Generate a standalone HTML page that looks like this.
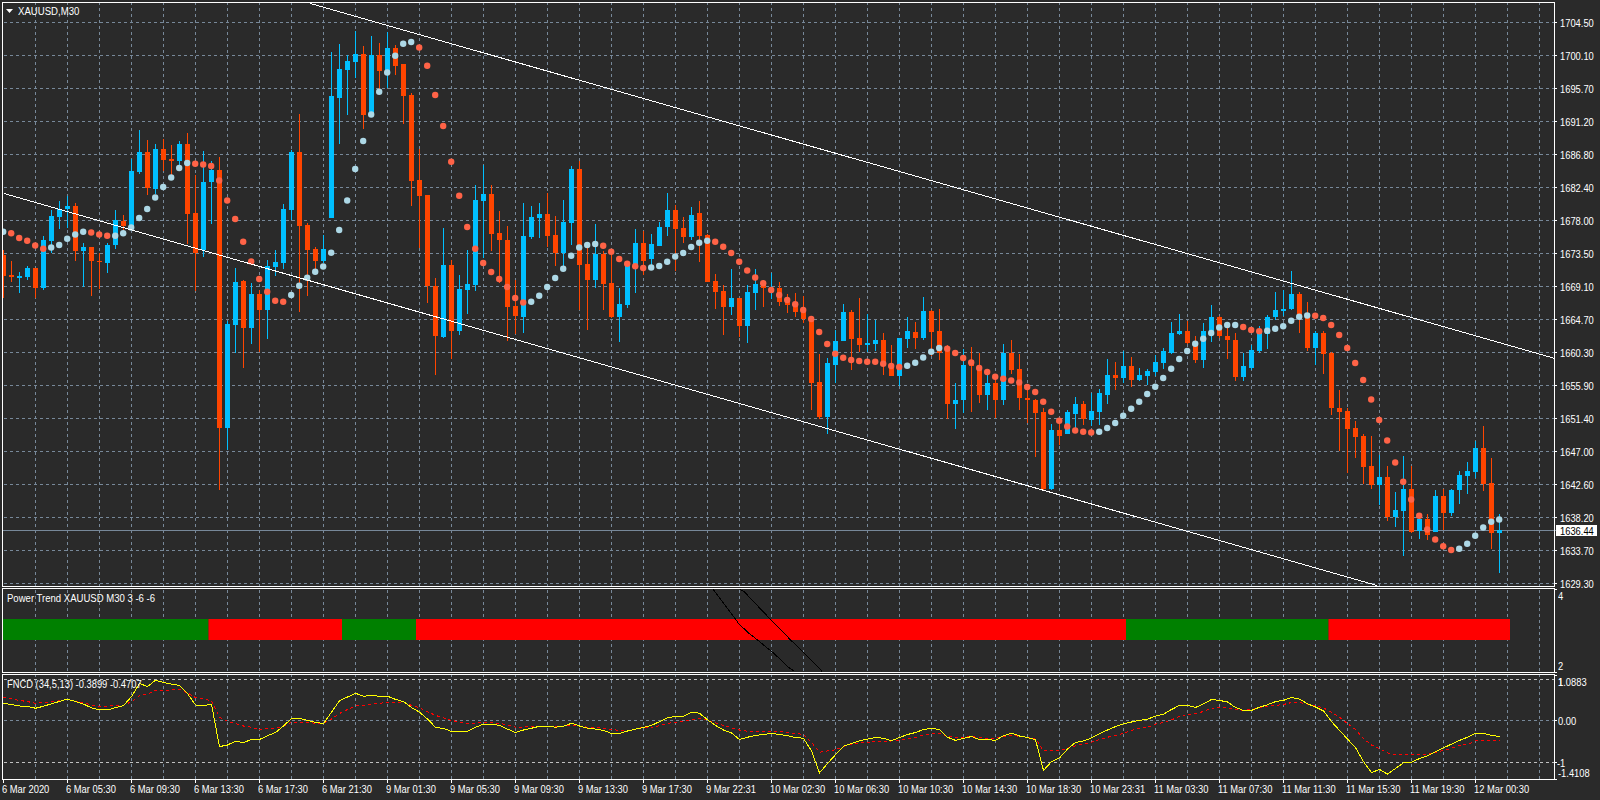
<!DOCTYPE html><html><head><meta charset="utf-8"><title>XAUUSD,M30</title><style>html,body{margin:0;padding:0;background:#2a2a2a;width:1600px;height:800px;overflow:hidden}svg{position:absolute;left:0;top:0;display:block}.t{position:absolute;font-family:"Liberation Sans",sans-serif;font-size:10px;line-height:10px;color:#fff;white-space:pre;transform:scaleX(0.935);transform-origin:0 0}</style></head><body><svg width="1600" height="800" viewBox="0 0 1600 800"><g stroke="#778899" stroke-width="1" stroke-dasharray="3 3" shape-rendering="crispEdges"><line x1="4" y1="22.5" x2="1554" y2="22.5"/><line x1="4" y1="55.5" x2="1554" y2="55.5"/><line x1="4" y1="88.5" x2="1554" y2="88.5"/><line x1="4" y1="121.5" x2="1554" y2="121.5"/><line x1="4" y1="154.5" x2="1554" y2="154.5"/><line x1="4" y1="187.5" x2="1554" y2="187.5"/><line x1="4" y1="220.5" x2="1554" y2="220.5"/><line x1="4" y1="253.5" x2="1554" y2="253.5"/><line x1="4" y1="286.5" x2="1554" y2="286.5"/><line x1="4" y1="319.5" x2="1554" y2="319.5"/><line x1="4" y1="352.5" x2="1554" y2="352.5"/><line x1="4" y1="385.5" x2="1554" y2="385.5"/><line x1="4" y1="418.5" x2="1554" y2="418.5"/><line x1="4" y1="451.5" x2="1554" y2="451.5"/><line x1="4" y1="484.5" x2="1554" y2="484.5"/><line x1="4" y1="517.5" x2="1554" y2="517.5"/><line x1="4" y1="550.5" x2="1554" y2="550.5"/><line x1="4" y1="583.5" x2="1554" y2="583.5"/><line x1="35.5" y1="2" x2="35.5" y2="586"/><line x1="35.5" y1="590" x2="35.5" y2="672"/><line x1="35.5" y1="674" x2="35.5" y2="779"/><line x1="67.5" y1="2" x2="67.5" y2="586"/><line x1="67.5" y1="590" x2="67.5" y2="672"/><line x1="67.5" y1="674" x2="67.5" y2="779"/><line x1="99.5" y1="2" x2="99.5" y2="586"/><line x1="99.5" y1="590" x2="99.5" y2="672"/><line x1="99.5" y1="674" x2="99.5" y2="779"/><line x1="131.5" y1="2" x2="131.5" y2="586"/><line x1="131.5" y1="590" x2="131.5" y2="672"/><line x1="131.5" y1="674" x2="131.5" y2="779"/><line x1="163.5" y1="2" x2="163.5" y2="586"/><line x1="163.5" y1="590" x2="163.5" y2="672"/><line x1="163.5" y1="674" x2="163.5" y2="779"/><line x1="195.5" y1="2" x2="195.5" y2="586"/><line x1="195.5" y1="590" x2="195.5" y2="672"/><line x1="195.5" y1="674" x2="195.5" y2="779"/><line x1="227.5" y1="2" x2="227.5" y2="586"/><line x1="227.5" y1="590" x2="227.5" y2="672"/><line x1="227.5" y1="674" x2="227.5" y2="779"/><line x1="259.5" y1="2" x2="259.5" y2="586"/><line x1="259.5" y1="590" x2="259.5" y2="672"/><line x1="259.5" y1="674" x2="259.5" y2="779"/><line x1="291.5" y1="2" x2="291.5" y2="586"/><line x1="291.5" y1="590" x2="291.5" y2="672"/><line x1="291.5" y1="674" x2="291.5" y2="779"/><line x1="323.5" y1="2" x2="323.5" y2="586"/><line x1="323.5" y1="590" x2="323.5" y2="672"/><line x1="323.5" y1="674" x2="323.5" y2="779"/><line x1="355.5" y1="2" x2="355.5" y2="586"/><line x1="355.5" y1="590" x2="355.5" y2="672"/><line x1="355.5" y1="674" x2="355.5" y2="779"/><line x1="387.5" y1="2" x2="387.5" y2="586"/><line x1="387.5" y1="590" x2="387.5" y2="672"/><line x1="387.5" y1="674" x2="387.5" y2="779"/><line x1="419.5" y1="2" x2="419.5" y2="586"/><line x1="419.5" y1="590" x2="419.5" y2="672"/><line x1="419.5" y1="674" x2="419.5" y2="779"/><line x1="451.5" y1="2" x2="451.5" y2="586"/><line x1="451.5" y1="590" x2="451.5" y2="672"/><line x1="451.5" y1="674" x2="451.5" y2="779"/><line x1="483.5" y1="2" x2="483.5" y2="586"/><line x1="483.5" y1="590" x2="483.5" y2="672"/><line x1="483.5" y1="674" x2="483.5" y2="779"/><line x1="515.5" y1="2" x2="515.5" y2="586"/><line x1="515.5" y1="590" x2="515.5" y2="672"/><line x1="515.5" y1="674" x2="515.5" y2="779"/><line x1="547.5" y1="2" x2="547.5" y2="586"/><line x1="547.5" y1="590" x2="547.5" y2="672"/><line x1="547.5" y1="674" x2="547.5" y2="779"/><line x1="579.5" y1="2" x2="579.5" y2="586"/><line x1="579.5" y1="590" x2="579.5" y2="672"/><line x1="579.5" y1="674" x2="579.5" y2="779"/><line x1="611.5" y1="2" x2="611.5" y2="586"/><line x1="611.5" y1="590" x2="611.5" y2="672"/><line x1="611.5" y1="674" x2="611.5" y2="779"/><line x1="643.5" y1="2" x2="643.5" y2="586"/><line x1="643.5" y1="590" x2="643.5" y2="672"/><line x1="643.5" y1="674" x2="643.5" y2="779"/><line x1="675.5" y1="2" x2="675.5" y2="586"/><line x1="675.5" y1="590" x2="675.5" y2="672"/><line x1="675.5" y1="674" x2="675.5" y2="779"/><line x1="707.5" y1="2" x2="707.5" y2="586"/><line x1="707.5" y1="590" x2="707.5" y2="672"/><line x1="707.5" y1="674" x2="707.5" y2="779"/><line x1="739.5" y1="2" x2="739.5" y2="586"/><line x1="739.5" y1="590" x2="739.5" y2="672"/><line x1="739.5" y1="674" x2="739.5" y2="779"/><line x1="771.5" y1="2" x2="771.5" y2="586"/><line x1="771.5" y1="590" x2="771.5" y2="672"/><line x1="771.5" y1="674" x2="771.5" y2="779"/><line x1="803.5" y1="2" x2="803.5" y2="586"/><line x1="803.5" y1="590" x2="803.5" y2="672"/><line x1="803.5" y1="674" x2="803.5" y2="779"/><line x1="835.5" y1="2" x2="835.5" y2="586"/><line x1="835.5" y1="590" x2="835.5" y2="672"/><line x1="835.5" y1="674" x2="835.5" y2="779"/><line x1="867.5" y1="2" x2="867.5" y2="586"/><line x1="867.5" y1="590" x2="867.5" y2="672"/><line x1="867.5" y1="674" x2="867.5" y2="779"/><line x1="899.5" y1="2" x2="899.5" y2="586"/><line x1="899.5" y1="590" x2="899.5" y2="672"/><line x1="899.5" y1="674" x2="899.5" y2="779"/><line x1="931.5" y1="2" x2="931.5" y2="586"/><line x1="931.5" y1="590" x2="931.5" y2="672"/><line x1="931.5" y1="674" x2="931.5" y2="779"/><line x1="963.5" y1="2" x2="963.5" y2="586"/><line x1="963.5" y1="590" x2="963.5" y2="672"/><line x1="963.5" y1="674" x2="963.5" y2="779"/><line x1="995.5" y1="2" x2="995.5" y2="586"/><line x1="995.5" y1="590" x2="995.5" y2="672"/><line x1="995.5" y1="674" x2="995.5" y2="779"/><line x1="1027.5" y1="2" x2="1027.5" y2="586"/><line x1="1027.5" y1="590" x2="1027.5" y2="672"/><line x1="1027.5" y1="674" x2="1027.5" y2="779"/><line x1="1059.5" y1="2" x2="1059.5" y2="586"/><line x1="1059.5" y1="590" x2="1059.5" y2="672"/><line x1="1059.5" y1="674" x2="1059.5" y2="779"/><line x1="1091.5" y1="2" x2="1091.5" y2="586"/><line x1="1091.5" y1="590" x2="1091.5" y2="672"/><line x1="1091.5" y1="674" x2="1091.5" y2="779"/><line x1="1123.5" y1="2" x2="1123.5" y2="586"/><line x1="1123.5" y1="590" x2="1123.5" y2="672"/><line x1="1123.5" y1="674" x2="1123.5" y2="779"/><line x1="1155.5" y1="2" x2="1155.5" y2="586"/><line x1="1155.5" y1="590" x2="1155.5" y2="672"/><line x1="1155.5" y1="674" x2="1155.5" y2="779"/><line x1="1187.5" y1="2" x2="1187.5" y2="586"/><line x1="1187.5" y1="590" x2="1187.5" y2="672"/><line x1="1187.5" y1="674" x2="1187.5" y2="779"/><line x1="1219.5" y1="2" x2="1219.5" y2="586"/><line x1="1219.5" y1="590" x2="1219.5" y2="672"/><line x1="1219.5" y1="674" x2="1219.5" y2="779"/><line x1="1251.5" y1="2" x2="1251.5" y2="586"/><line x1="1251.5" y1="590" x2="1251.5" y2="672"/><line x1="1251.5" y1="674" x2="1251.5" y2="779"/><line x1="1283.5" y1="2" x2="1283.5" y2="586"/><line x1="1283.5" y1="590" x2="1283.5" y2="672"/><line x1="1283.5" y1="674" x2="1283.5" y2="779"/><line x1="1315.5" y1="2" x2="1315.5" y2="586"/><line x1="1315.5" y1="590" x2="1315.5" y2="672"/><line x1="1315.5" y1="674" x2="1315.5" y2="779"/><line x1="1347.5" y1="2" x2="1347.5" y2="586"/><line x1="1347.5" y1="590" x2="1347.5" y2="672"/><line x1="1347.5" y1="674" x2="1347.5" y2="779"/><line x1="1379.5" y1="2" x2="1379.5" y2="586"/><line x1="1379.5" y1="590" x2="1379.5" y2="672"/><line x1="1379.5" y1="674" x2="1379.5" y2="779"/><line x1="1411.5" y1="2" x2="1411.5" y2="586"/><line x1="1411.5" y1="590" x2="1411.5" y2="672"/><line x1="1411.5" y1="674" x2="1411.5" y2="779"/><line x1="1443.5" y1="2" x2="1443.5" y2="586"/><line x1="1443.5" y1="590" x2="1443.5" y2="672"/><line x1="1443.5" y1="674" x2="1443.5" y2="779"/><line x1="1475.5" y1="2" x2="1475.5" y2="586"/><line x1="1475.5" y1="590" x2="1475.5" y2="672"/><line x1="1475.5" y1="674" x2="1475.5" y2="779"/><line x1="1507.5" y1="2" x2="1507.5" y2="586"/><line x1="1507.5" y1="590" x2="1507.5" y2="672"/><line x1="1507.5" y1="674" x2="1507.5" y2="779"/><line x1="1539.5" y1="2" x2="1539.5" y2="586"/><line x1="1539.5" y1="590" x2="1539.5" y2="672"/><line x1="1539.5" y1="674" x2="1539.5" y2="779"/><line x1="4" y1="720.5" x2="1554" y2="720.5"/></g><g stroke="#c0c0c0" stroke-width="1" stroke-dasharray="3 3" shape-rendering="crispEdges"><line x1="4" y1="679.5" x2="1554" y2="679.5"/><line x1="4" y1="762.5" x2="1554" y2="762.5"/></g><line x1="3" y1="530.5" x2="1556" y2="530.5" stroke="#778899" stroke-width="1" shape-rendering="crispEdges"/><g clip-path="url(#mainclip)" shape-rendering="crispEdges"><g fill="#00bfff"><rect x="19" y="272" width="1" height="21"/><rect x="17" y="276" width="5" height="2"/><rect x="27" y="266" width="1" height="14"/><rect x="25" y="268" width="5" height="9"/><rect x="43" y="236" width="1" height="54"/><rect x="41" y="240" width="5" height="48"/><rect x="51" y="210" width="1" height="43"/><rect x="49" y="216" width="5" height="25"/><rect x="59" y="201" width="1" height="28"/><rect x="57" y="209" width="5" height="8"/><rect x="67" y="196" width="1" height="32"/><rect x="65" y="206" width="5" height="3"/><rect x="83" y="243" width="1" height="44"/><rect x="81" y="247" width="5" height="4"/><rect x="107" y="243" width="1" height="30"/><rect x="105" y="245" width="5" height="18"/><rect x="115" y="210" width="1" height="39"/><rect x="113" y="220" width="5" height="25"/><rect x="131" y="159" width="1" height="71"/><rect x="129" y="171" width="5" height="58"/><rect x="139" y="130" width="1" height="44"/><rect x="137" y="152" width="5" height="20"/><rect x="155" y="144" width="1" height="50"/><rect x="153" y="149" width="5" height="40"/><rect x="179" y="141" width="1" height="24"/><rect x="177" y="144" width="5" height="17"/><rect x="203" y="151" width="1" height="106"/><rect x="201" y="182" width="5" height="68"/><rect x="211" y="161" width="1" height="63"/><rect x="209" y="170" width="5" height="12"/><rect x="227" y="321" width="1" height="129"/><rect x="225" y="324" width="5" height="104"/><rect x="235" y="268" width="1" height="85"/><rect x="233" y="282" width="5" height="43"/><rect x="251" y="283" width="1" height="61"/><rect x="249" y="294" width="5" height="34"/><rect x="267" y="260" width="1" height="79"/><rect x="265" y="266" width="5" height="44"/><rect x="275" y="250" width="1" height="26"/><rect x="273" y="262" width="5" height="5"/><rect x="283" y="204" width="1" height="65"/><rect x="281" y="209" width="5" height="54"/><rect x="291" y="150" width="1" height="70"/><rect x="289" y="152" width="5" height="58"/><rect x="323" y="235" width="1" height="28"/><rect x="321" y="249" width="5" height="12"/><rect x="331" y="52" width="1" height="166"/><rect x="329" y="96" width="5" height="122"/><rect x="339" y="44" width="1" height="100"/><rect x="337" y="69" width="5" height="29"/><rect x="347" y="55" width="1" height="60"/><rect x="345" y="61" width="5" height="9"/><rect x="355" y="31" width="1" height="47"/><rect x="353" y="54" width="5" height="8"/><rect x="371" y="36" width="1" height="79"/><rect x="369" y="55" width="5" height="59"/><rect x="387" y="32" width="1" height="56"/><rect x="385" y="48" width="5" height="24"/><rect x="443" y="228" width="1" height="110"/><rect x="441" y="265" width="5" height="72"/><rect x="459" y="275" width="1" height="60"/><rect x="457" y="289" width="5" height="42"/><rect x="467" y="250" width="1" height="64"/><rect x="465" y="284" width="5" height="6"/><rect x="475" y="185" width="1" height="106"/><rect x="473" y="200" width="5" height="85"/><rect x="483" y="165" width="1" height="93"/><rect x="481" y="194" width="5" height="7"/><rect x="523" y="203" width="1" height="130"/><rect x="521" y="236" width="5" height="81"/><rect x="531" y="206" width="1" height="33"/><rect x="529" y="217" width="5" height="20"/><rect x="539" y="203" width="1" height="35"/><rect x="537" y="214" width="5" height="4"/><rect x="563" y="200" width="1" height="66"/><rect x="561" y="222" width="5" height="31"/><rect x="571" y="166" width="1" height="79"/><rect x="569" y="169" width="5" height="54"/><rect x="595" y="224" width="1" height="64"/><rect x="593" y="254" width="5" height="26"/><rect x="619" y="288" width="1" height="54"/><rect x="617" y="304" width="5" height="13"/><rect x="627" y="263" width="1" height="45"/><rect x="625" y="265" width="5" height="40"/><rect x="635" y="229" width="1" height="64"/><rect x="633" y="243" width="5" height="22"/><rect x="651" y="234" width="1" height="32"/><rect x="649" y="244" width="5" height="15"/><rect x="659" y="222" width="1" height="24"/><rect x="657" y="227" width="5" height="19"/><rect x="667" y="193" width="1" height="43"/><rect x="665" y="210" width="5" height="17"/><rect x="691" y="207" width="1" height="33"/><rect x="689" y="215" width="5" height="22"/><rect x="731" y="269" width="1" height="46"/><rect x="729" y="298" width="5" height="9"/><rect x="747" y="285" width="1" height="58"/><rect x="745" y="292" width="5" height="34"/><rect x="755" y="269" width="1" height="41"/><rect x="753" y="284" width="5" height="9"/><rect x="771" y="273" width="1" height="26"/><rect x="769" y="288" width="5" height="2"/><rect x="827" y="358" width="1" height="76"/><rect x="825" y="363" width="5" height="54"/><rect x="835" y="330" width="1" height="53"/><rect x="833" y="341" width="5" height="24"/><rect x="843" y="304" width="1" height="37"/><rect x="841" y="312" width="5" height="29"/><rect x="867" y="314" width="1" height="38"/><rect x="865" y="343" width="5" height="2"/><rect x="875" y="320" width="1" height="31"/><rect x="873" y="340" width="5" height="4"/><rect x="899" y="338" width="1" height="48"/><rect x="897" y="338" width="5" height="38"/><rect x="907" y="317" width="1" height="31"/><rect x="905" y="331" width="5" height="8"/><rect x="923" y="297" width="1" height="43"/><rect x="921" y="311" width="5" height="27"/><rect x="955" y="383" width="1" height="46"/><rect x="953" y="400" width="5" height="4"/><rect x="963" y="349" width="1" height="64"/><rect x="961" y="365" width="5" height="35"/><rect x="987" y="375" width="1" height="35"/><rect x="985" y="383" width="5" height="12"/><rect x="1003" y="344" width="1" height="61"/><rect x="1001" y="353" width="5" height="47"/><rect x="1051" y="424" width="1" height="66"/><rect x="1049" y="430" width="5" height="59"/><rect x="1067" y="410" width="1" height="24"/><rect x="1065" y="412" width="5" height="22"/><rect x="1075" y="397" width="1" height="31"/><rect x="1073" y="404" width="5" height="10"/><rect x="1091" y="393" width="1" height="33"/><rect x="1089" y="411" width="5" height="9"/><rect x="1099" y="389" width="1" height="36"/><rect x="1097" y="393" width="5" height="19"/><rect x="1107" y="359" width="1" height="45"/><rect x="1105" y="375" width="5" height="20"/><rect x="1123" y="351" width="1" height="32"/><rect x="1121" y="366" width="5" height="12"/><rect x="1139" y="368" width="1" height="13"/><rect x="1137" y="375" width="5" height="5"/><rect x="1147" y="369" width="1" height="16"/><rect x="1145" y="371" width="5" height="5"/><rect x="1155" y="355" width="1" height="21"/><rect x="1153" y="362" width="5" height="10"/><rect x="1163" y="348" width="1" height="21"/><rect x="1161" y="351" width="5" height="12"/><rect x="1171" y="322" width="1" height="32"/><rect x="1169" y="333" width="5" height="20"/><rect x="1179" y="314" width="1" height="21"/><rect x="1177" y="331" width="5" height="3"/><rect x="1203" y="323" width="1" height="45"/><rect x="1201" y="331" width="5" height="29"/><rect x="1211" y="305" width="1" height="37"/><rect x="1209" y="317" width="5" height="16"/><rect x="1243" y="353" width="1" height="28"/><rect x="1241" y="366" width="5" height="11"/><rect x="1251" y="345" width="1" height="25"/><rect x="1249" y="350" width="5" height="18"/><rect x="1259" y="326" width="1" height="27"/><rect x="1257" y="333" width="5" height="18"/><rect x="1267" y="315" width="1" height="34"/><rect x="1265" y="317" width="5" height="17"/><rect x="1275" y="292" width="1" height="28"/><rect x="1273" y="310" width="5" height="7"/><rect x="1283" y="290" width="1" height="26"/><rect x="1281" y="309" width="5" height="2"/><rect x="1291" y="271" width="1" height="39"/><rect x="1289" y="294" width="5" height="15"/><rect x="1315" y="331" width="1" height="34"/><rect x="1313" y="333" width="5" height="15"/><rect x="1379" y="455" width="1" height="50"/><rect x="1377" y="477" width="5" height="8"/><rect x="1395" y="492" width="1" height="35"/><rect x="1393" y="510" width="5" height="7"/><rect x="1403" y="456" width="1" height="100"/><rect x="1401" y="489" width="5" height="22"/><rect x="1419" y="515" width="1" height="24"/><rect x="1417" y="519" width="5" height="12"/><rect x="1435" y="490" width="1" height="42"/><rect x="1433" y="496" width="5" height="36"/><rect x="1451" y="489" width="1" height="27"/><rect x="1449" y="490" width="5" height="23"/><rect x="1459" y="471" width="1" height="33"/><rect x="1457" y="475" width="5" height="15"/><rect x="1467" y="462" width="1" height="32"/><rect x="1465" y="471" width="5" height="5"/><rect x="1475" y="441" width="1" height="37"/><rect x="1473" y="448" width="5" height="24"/><rect x="1499" y="514" width="1" height="59"/><rect x="1497" y="530" width="5" height="3"/></g><g fill="#ff4500"><rect x="3" y="250" width="1" height="48"/><rect x="1" y="255" width="5" height="21"/><rect x="11" y="261" width="1" height="21"/><rect x="9" y="275" width="5" height="2"/><rect x="35" y="268" width="1" height="30"/><rect x="33" y="268" width="5" height="20"/><rect x="75" y="203" width="1" height="58"/><rect x="73" y="206" width="5" height="45"/><rect x="91" y="247" width="1" height="49"/><rect x="89" y="247" width="5" height="14"/><rect x="99" y="253" width="1" height="36"/><rect x="97" y="261" width="5" height="1"/><rect x="123" y="215" width="1" height="16"/><rect x="121" y="221" width="5" height="5"/><rect x="147" y="140" width="1" height="55"/><rect x="145" y="152" width="5" height="36"/><rect x="163" y="139" width="1" height="32"/><rect x="161" y="149" width="5" height="11"/><rect x="171" y="145" width="1" height="32"/><rect x="169" y="159" width="5" height="2"/><rect x="187" y="133" width="1" height="111"/><rect x="185" y="144" width="5" height="70"/><rect x="195" y="175" width="1" height="116"/><rect x="193" y="213" width="5" height="40"/><rect x="219" y="157" width="1" height="333"/><rect x="217" y="170" width="5" height="258"/><rect x="243" y="280" width="1" height="88"/><rect x="241" y="281" width="5" height="47"/><rect x="259" y="290" width="1" height="62"/><rect x="257" y="294" width="5" height="16"/><rect x="299" y="114" width="1" height="198"/><rect x="297" y="152" width="5" height="74"/><rect x="307" y="223" width="1" height="73"/><rect x="305" y="225" width="5" height="25"/><rect x="315" y="247" width="1" height="22"/><rect x="313" y="249" width="5" height="12"/><rect x="363" y="46" width="1" height="83"/><rect x="361" y="54" width="5" height="61"/><rect x="379" y="43" width="1" height="48"/><rect x="377" y="55" width="5" height="16"/><rect x="395" y="45" width="1" height="30"/><rect x="393" y="48" width="5" height="18"/><rect x="403" y="64" width="1" height="60"/><rect x="401" y="64" width="5" height="32"/><rect x="411" y="93" width="1" height="113"/><rect x="409" y="95" width="5" height="86"/><rect x="419" y="149" width="1" height="99"/><rect x="417" y="180" width="5" height="16"/><rect x="427" y="195" width="1" height="108"/><rect x="425" y="195" width="5" height="91"/><rect x="435" y="278" width="1" height="97"/><rect x="433" y="286" width="5" height="50"/><rect x="451" y="260" width="1" height="99"/><rect x="449" y="265" width="5" height="66"/><rect x="491" y="185" width="1" height="66"/><rect x="489" y="194" width="5" height="40"/><rect x="499" y="211" width="1" height="72"/><rect x="497" y="233" width="5" height="7"/><rect x="507" y="226" width="1" height="115"/><rect x="505" y="240" width="5" height="67"/><rect x="515" y="280" width="1" height="54"/><rect x="513" y="306" width="5" height="10"/><rect x="547" y="193" width="1" height="54"/><rect x="545" y="214" width="5" height="22"/><rect x="555" y="216" width="1" height="50"/><rect x="553" y="235" width="5" height="18"/><rect x="579" y="161" width="1" height="149"/><rect x="577" y="169" width="5" height="96"/><rect x="587" y="246" width="1" height="84"/><rect x="585" y="264" width="5" height="16"/><rect x="603" y="251" width="1" height="59"/><rect x="601" y="254" width="5" height="30"/><rect x="611" y="253" width="1" height="65"/><rect x="609" y="283" width="5" height="34"/><rect x="643" y="231" width="1" height="44"/><rect x="641" y="243" width="5" height="18"/><rect x="675" y="205" width="1" height="66"/><rect x="673" y="210" width="5" height="19"/><rect x="683" y="217" width="1" height="26"/><rect x="681" y="228" width="5" height="9"/><rect x="699" y="201" width="1" height="61"/><rect x="697" y="213" width="5" height="23"/><rect x="707" y="234" width="1" height="48"/><rect x="705" y="235" width="5" height="47"/><rect x="715" y="274" width="1" height="35"/><rect x="713" y="281" width="5" height="11"/><rect x="723" y="285" width="1" height="50"/><rect x="721" y="291" width="5" height="16"/><rect x="739" y="298" width="1" height="39"/><rect x="737" y="298" width="5" height="28"/><rect x="763" y="280" width="1" height="27"/><rect x="761" y="282" width="5" height="6"/><rect x="779" y="282" width="1" height="24"/><rect x="777" y="288" width="5" height="14"/><rect x="787" y="294" width="1" height="19"/><rect x="785" y="298" width="5" height="7"/><rect x="795" y="293" width="1" height="24"/><rect x="793" y="302" width="5" height="10"/><rect x="803" y="296" width="1" height="27"/><rect x="801" y="309" width="5" height="10"/><rect x="811" y="318" width="1" height="92"/><rect x="809" y="319" width="5" height="64"/><rect x="819" y="354" width="1" height="65"/><rect x="817" y="382" width="5" height="35"/><rect x="851" y="310" width="1" height="60"/><rect x="849" y="312" width="5" height="27"/><rect x="859" y="298" width="1" height="54"/><rect x="857" y="338" width="5" height="7"/><rect x="883" y="333" width="1" height="42"/><rect x="881" y="340" width="5" height="24"/><rect x="891" y="345" width="1" height="31"/><rect x="889" y="364" width="5" height="12"/><rect x="915" y="322" width="1" height="27"/><rect x="913" y="332" width="5" height="6"/><rect x="931" y="310" width="1" height="46"/><rect x="929" y="311" width="5" height="21"/><rect x="939" y="309" width="1" height="51"/><rect x="937" y="331" width="5" height="22"/><rect x="947" y="345" width="1" height="74"/><rect x="945" y="348" width="5" height="56"/><rect x="971" y="347" width="1" height="65"/><rect x="969" y="360" width="5" height="6"/><rect x="979" y="353" width="1" height="50"/><rect x="977" y="366" width="5" height="29"/><rect x="995" y="378" width="1" height="40"/><rect x="993" y="383" width="5" height="17"/><rect x="1011" y="340" width="1" height="34"/><rect x="1009" y="353" width="5" height="17"/><rect x="1019" y="354" width="1" height="56"/><rect x="1017" y="369" width="5" height="29"/><rect x="1027" y="386" width="1" height="37"/><rect x="1025" y="398" width="5" height="2"/><rect x="1035" y="399" width="1" height="58"/><rect x="1033" y="400" width="5" height="13"/><rect x="1043" y="408" width="1" height="83"/><rect x="1041" y="412" width="5" height="77"/><rect x="1059" y="424" width="1" height="21"/><rect x="1057" y="430" width="5" height="6"/><rect x="1083" y="401" width="1" height="24"/><rect x="1081" y="404" width="5" height="15"/><rect x="1115" y="362" width="1" height="28"/><rect x="1113" y="375" width="5" height="3"/><rect x="1131" y="357" width="1" height="30"/><rect x="1129" y="366" width="5" height="14"/><rect x="1187" y="321" width="1" height="23"/><rect x="1185" y="331" width="5" height="12"/><rect x="1195" y="336" width="1" height="27"/><rect x="1193" y="344" width="5" height="16"/><rect x="1219" y="316" width="1" height="22"/><rect x="1217" y="317" width="5" height="19"/><rect x="1227" y="328" width="1" height="31"/><rect x="1225" y="336" width="5" height="4"/><rect x="1235" y="333" width="1" height="48"/><rect x="1233" y="340" width="5" height="37"/><rect x="1299" y="292" width="1" height="41"/><rect x="1297" y="294" width="5" height="22"/><rect x="1307" y="302" width="1" height="49"/><rect x="1305" y="316" width="5" height="32"/><rect x="1323" y="331" width="1" height="43"/><rect x="1321" y="333" width="5" height="21"/><rect x="1331" y="352" width="1" height="63"/><rect x="1329" y="353" width="5" height="55"/><rect x="1339" y="390" width="1" height="61"/><rect x="1337" y="408" width="5" height="4"/><rect x="1347" y="408" width="1" height="65"/><rect x="1345" y="411" width="5" height="18"/><rect x="1355" y="421" width="1" height="37"/><rect x="1353" y="428" width="5" height="9"/><rect x="1363" y="434" width="1" height="50"/><rect x="1361" y="436" width="5" height="31"/><rect x="1371" y="436" width="1" height="53"/><rect x="1369" y="466" width="5" height="19"/><rect x="1387" y="466" width="1" height="55"/><rect x="1385" y="477" width="5" height="40"/><rect x="1411" y="466" width="1" height="67"/><rect x="1409" y="489" width="5" height="43"/><rect x="1427" y="514" width="1" height="26"/><rect x="1425" y="519" width="5" height="16"/><rect x="1443" y="489" width="1" height="41"/><rect x="1441" y="496" width="5" height="17"/><rect x="1483" y="426" width="1" height="65"/><rect x="1481" y="448" width="5" height="36"/><rect x="1491" y="458" width="1" height="91"/><rect x="1489" y="483" width="5" height="50"/></g></g><defs><clipPath id="mainclip"><rect x="3" y="3" width="1551" height="583"/></clipPath></defs><g clip-path="url(#mainclip)"><g fill="#add8e6"><circle cx="3.2" cy="231.75" r="3.2"/><circle cx="51.2" cy="247.50" r="3.2"/><circle cx="59.2" cy="245.00" r="3.2"/><circle cx="67.2" cy="238.75" r="3.2"/><circle cx="75.2" cy="234.50" r="3.2"/><circle cx="83.2" cy="231.75" r="3.2"/><circle cx="115.2" cy="235.75" r="3.2"/><circle cx="123.2" cy="233.25" r="3.2"/><circle cx="131.2" cy="227.50" r="3.2"/><circle cx="139.2" cy="218.00" r="3.2"/><circle cx="147.2" cy="209.00" r="3.2"/><circle cx="155.2" cy="197.50" r="3.2"/><circle cx="163.2" cy="187.00" r="3.2"/><circle cx="171.2" cy="177.50" r="3.2"/><circle cx="179.2" cy="168.00" r="3.2"/><circle cx="187.2" cy="163.00" r="3.2"/><circle cx="291.2" cy="295.00" r="3.2"/><circle cx="299.2" cy="285.75" r="3.2"/><circle cx="307.2" cy="277.75" r="3.2"/><circle cx="315.2" cy="271.75" r="3.2"/><circle cx="323.2" cy="266.50" r="3.2"/><circle cx="331.2" cy="252.75" r="3.2"/><circle cx="339.2" cy="230.00" r="3.2"/><circle cx="347.2" cy="200.50" r="3.2"/><circle cx="355.2" cy="169.00" r="3.2"/><circle cx="363.2" cy="141.00" r="3.2"/><circle cx="371.2" cy="114.50" r="3.2"/><circle cx="379.2" cy="91.75" r="3.2"/><circle cx="387.2" cy="72.50" r="3.2"/><circle cx="395.2" cy="55.75" r="3.2"/><circle cx="403.2" cy="43.75" r="3.2"/><circle cx="411.2" cy="42.00" r="3.2"/><circle cx="531.2" cy="301.75" r="3.2"/><circle cx="539.2" cy="295.75" r="3.2"/><circle cx="547.2" cy="287.00" r="3.2"/><circle cx="555.2" cy="278.00" r="3.2"/><circle cx="563.2" cy="268.75" r="3.2"/><circle cx="571.2" cy="255.75" r="3.2"/><circle cx="579.2" cy="247.50" r="3.2"/><circle cx="587.2" cy="245.00" r="3.2"/><circle cx="595.2" cy="244.00" r="3.2"/><circle cx="651.2" cy="267.50" r="3.2"/><circle cx="659.2" cy="266.00" r="3.2"/><circle cx="667.2" cy="261.75" r="3.2"/><circle cx="675.2" cy="256.50" r="3.2"/><circle cx="683.2" cy="253.00" r="3.2"/><circle cx="691.2" cy="247.00" r="3.2"/><circle cx="699.2" cy="242.75" r="3.2"/><circle cx="707.2" cy="240.75" r="3.2"/><circle cx="907.2" cy="365.75" r="3.2"/><circle cx="915.2" cy="362.75" r="3.2"/><circle cx="923.2" cy="357.50" r="3.2"/><circle cx="931.2" cy="351.75" r="3.2"/><circle cx="939.2" cy="348.00" r="3.2"/><circle cx="1099.2" cy="431.75" r="3.2"/><circle cx="1107.2" cy="428.00" r="3.2"/><circle cx="1115.2" cy="423.00" r="3.2"/><circle cx="1123.2" cy="415.75" r="3.2"/><circle cx="1131.2" cy="408.75" r="3.2"/><circle cx="1139.2" cy="401.75" r="3.2"/><circle cx="1147.2" cy="394.00" r="3.2"/><circle cx="1155.2" cy="386.75" r="3.2"/><circle cx="1163.2" cy="378.00" r="3.2"/><circle cx="1171.2" cy="368.75" r="3.2"/><circle cx="1179.2" cy="359.00" r="3.2"/><circle cx="1187.2" cy="351.00" r="3.2"/><circle cx="1195.2" cy="343.75" r="3.2"/><circle cx="1203.2" cy="338.75" r="3.2"/><circle cx="1211.2" cy="333.00" r="3.2"/><circle cx="1219.2" cy="327.50" r="3.2"/><circle cx="1227.2" cy="325.00" r="3.2"/><circle cx="1235.2" cy="325.00" r="3.2"/><circle cx="1267.2" cy="330.75" r="3.2"/><circle cx="1275.2" cy="328.75" r="3.2"/><circle cx="1283.2" cy="326.25" r="3.2"/><circle cx="1291.2" cy="320.75" r="3.2"/><circle cx="1299.2" cy="316.75" r="3.2"/><circle cx="1307.2" cy="315.50" r="3.2"/><circle cx="1459.2" cy="548.75" r="3.2"/><circle cx="1467.2" cy="543.75" r="3.2"/><circle cx="1475.2" cy="535.75" r="3.2"/><circle cx="1483.2" cy="527.50" r="3.2"/><circle cx="1491.2" cy="521.75" r="3.2"/><circle cx="1499.2" cy="519.50" r="3.2"/></g><g fill="#ff6347"><circle cx="11.2" cy="233.25" r="3.2"/><circle cx="19.2" cy="238.00" r="3.2"/><circle cx="27.2" cy="240.75" r="3.2"/><circle cx="35.2" cy="245.50" r="3.2"/><circle cx="43.2" cy="248.75" r="3.2"/><circle cx="91.2" cy="232.50" r="3.2"/><circle cx="99.2" cy="234.50" r="3.2"/><circle cx="107.2" cy="235.75" r="3.2"/><circle cx="195.2" cy="163.75" r="3.2"/><circle cx="203.2" cy="164.50" r="3.2"/><circle cx="211.2" cy="166.00" r="3.2"/><circle cx="219.2" cy="180.50" r="3.2"/><circle cx="227.2" cy="200.50" r="3.2"/><circle cx="235.2" cy="219.00" r="3.2"/><circle cx="243.2" cy="241.75" r="3.2"/><circle cx="251.2" cy="261.50" r="3.2"/><circle cx="259.2" cy="279.00" r="3.2"/><circle cx="267.2" cy="291.75" r="3.2"/><circle cx="275.2" cy="300.75" r="3.2"/><circle cx="283.2" cy="301.75" r="3.2"/><circle cx="419.2" cy="47.50" r="3.2"/><circle cx="427.2" cy="65.75" r="3.2"/><circle cx="435.2" cy="95.00" r="3.2"/><circle cx="443.2" cy="126.00" r="3.2"/><circle cx="451.2" cy="161.75" r="3.2"/><circle cx="459.2" cy="195.75" r="3.2"/><circle cx="467.2" cy="227.00" r="3.2"/><circle cx="475.2" cy="248.75" r="3.2"/><circle cx="483.2" cy="263.00" r="3.2"/><circle cx="491.2" cy="272.00" r="3.2"/><circle cx="499.2" cy="279.00" r="3.2"/><circle cx="507.2" cy="287.00" r="3.2"/><circle cx="515.2" cy="298.00" r="3.2"/><circle cx="523.2" cy="302.50" r="3.2"/><circle cx="603.2" cy="245.75" r="3.2"/><circle cx="611.2" cy="251.75" r="3.2"/><circle cx="619.2" cy="259.00" r="3.2"/><circle cx="627.2" cy="263.75" r="3.2"/><circle cx="635.2" cy="266.25" r="3.2"/><circle cx="643.2" cy="268.00" r="3.2"/><circle cx="715.2" cy="241.75" r="3.2"/><circle cx="723.2" cy="246.75" r="3.2"/><circle cx="731.2" cy="253.00" r="3.2"/><circle cx="739.2" cy="261.75" r="3.2"/><circle cx="747.2" cy="270.50" r="3.2"/><circle cx="755.2" cy="277.50" r="3.2"/><circle cx="763.2" cy="283.25" r="3.2"/><circle cx="771.2" cy="290.00" r="3.2"/><circle cx="779.2" cy="295.00" r="3.2"/><circle cx="787.2" cy="300.00" r="3.2"/><circle cx="795.2" cy="304.25" r="3.2"/><circle cx="803.2" cy="310.00" r="3.2"/><circle cx="811.2" cy="319.00" r="3.2"/><circle cx="819.2" cy="332.00" r="3.2"/><circle cx="827.2" cy="344.00" r="3.2"/><circle cx="835.2" cy="353.75" r="3.2"/><circle cx="843.2" cy="357.75" r="3.2"/><circle cx="851.2" cy="360.00" r="3.2"/><circle cx="859.2" cy="361.00" r="3.2"/><circle cx="867.2" cy="361.75" r="3.2"/><circle cx="875.2" cy="361.75" r="3.2"/><circle cx="883.2" cy="363.75" r="3.2"/><circle cx="891.2" cy="366.00" r="3.2"/><circle cx="899.2" cy="367.00" r="3.2"/><circle cx="947.2" cy="348.75" r="3.2"/><circle cx="955.2" cy="353.00" r="3.2"/><circle cx="963.2" cy="358.00" r="3.2"/><circle cx="971.2" cy="362.50" r="3.2"/><circle cx="979.2" cy="368.00" r="3.2"/><circle cx="987.2" cy="372.00" r="3.2"/><circle cx="995.2" cy="376.75" r="3.2"/><circle cx="1003.2" cy="378.75" r="3.2"/><circle cx="1011.2" cy="380.50" r="3.2"/><circle cx="1019.2" cy="382.50" r="3.2"/><circle cx="1027.2" cy="387.00" r="3.2"/><circle cx="1035.2" cy="392.00" r="3.2"/><circle cx="1043.2" cy="401.75" r="3.2"/><circle cx="1051.2" cy="411.75" r="3.2"/><circle cx="1059.2" cy="420.75" r="3.2"/><circle cx="1067.2" cy="426.50" r="3.2"/><circle cx="1075.2" cy="430.50" r="3.2"/><circle cx="1083.2" cy="431.75" r="3.2"/><circle cx="1091.2" cy="432.50" r="3.2"/><circle cx="1243.2" cy="327.00" r="3.2"/><circle cx="1251.2" cy="330.00" r="3.2"/><circle cx="1259.2" cy="331.25" r="3.2"/><circle cx="1315.2" cy="315.75" r="3.2"/><circle cx="1323.2" cy="318.00" r="3.2"/><circle cx="1331.2" cy="325.00" r="3.2"/><circle cx="1339.2" cy="335.00" r="3.2"/><circle cx="1347.2" cy="348.00" r="3.2"/><circle cx="1355.2" cy="363.00" r="3.2"/><circle cx="1363.2" cy="380.00" r="3.2"/><circle cx="1371.2" cy="399.50" r="3.2"/><circle cx="1379.2" cy="420.00" r="3.2"/><circle cx="1387.2" cy="440.50" r="3.2"/><circle cx="1395.2" cy="462.50" r="3.2"/><circle cx="1403.2" cy="481.75" r="3.2"/><circle cx="1411.2" cy="499.50" r="3.2"/><circle cx="1419.2" cy="515.75" r="3.2"/><circle cx="1427.2" cy="529.50" r="3.2"/><circle cx="1435.2" cy="539.50" r="3.2"/><circle cx="1443.2" cy="546.25" r="3.2"/><circle cx="1451.2" cy="550.00" r="3.2"/></g></g><g stroke="#ffffff" stroke-width="1" shape-rendering="crispEdges" clip-path="url(#mainclip)"><line x1="310" y1="3.4" x2="1554" y2="358.2"/><line x1="4" y1="193.5" x2="1377" y2="585.5"/></g><rect x="3" y="619" width="205.5" height="21" fill="#008000"/><rect x="208.5" y="619" width="133.5" height="21" fill="#ff0000"/><rect x="342" y="619" width="74" height="21" fill="#008000"/><rect x="416" y="619" width="710" height="21" fill="#ff0000"/><rect x="1126" y="619" width="202.5" height="21" fill="#008000"/><rect x="1328.5" y="619" width="181.5" height="21" fill="#ff0000"/><g fill="none" stroke="#000" stroke-width="1" shape-rendering="crispEdges"><polyline points="713.10,589.40 736.25,620.00 738.75,623.75 748.75,633.10 757.50,640.00 771.25,651.25 775.00,654.40 788.75,667.50 794.40,671.25"/><polyline points="740.00,589.40 743.75,591.25 767.50,616.25 771.25,620.00 791.25,640.60 803.75,652.50 815.00,663.75 821.90,671.25"/></g><g fill="none" stroke-width="1" clip-path="url(#fnclip)" shape-rendering="crispEdges"><polyline points="3.50,697.50 11.50,698.90 19.50,700.40 27.50,701.60 35.50,703.25 43.50,702.50 51.50,702.00 59.50,700.75 67.50,699.50 75.50,701.25 83.50,702.90 91.50,705.00 99.50,706.40 107.50,706.00 115.50,705.60 123.50,705.40 131.50,701.60 139.50,695.75 147.50,694.10 155.50,690.40 163.50,690.40 171.50,690.00 179.50,689.10 187.50,692.90 195.50,697.50 203.50,698.50 211.50,701.00 219.50,717.25 227.50,721.25 235.50,723.50 243.50,726.00 251.50,727.25 259.50,729.50 267.50,728.50 275.50,728.25 283.50,726.00 291.50,722.50 299.50,722.50 307.50,722.50 315.50,723.25 323.50,723.25 331.50,719.10 339.50,713.50 347.50,709.50 355.50,706.00 363.50,705.40 371.50,704.10 379.50,703.25 387.50,702.50 395.50,702.50 403.50,702.25 411.50,705.40 419.50,707.90 427.50,711.60 435.50,715.40 443.50,717.90 451.50,720.40 459.50,722.00 467.50,723.25 475.50,723.25 483.50,722.50 491.50,722.50 499.50,723.50 507.50,724.75 515.50,727.25 523.50,727.00 531.50,726.60 539.50,726.25 547.50,726.25 555.50,726.60 563.50,726.25 571.50,725.00 579.50,726.00 587.50,727.25 595.50,727.50 603.50,728.50 611.50,729.50 619.50,730.40 627.50,730.75 635.50,729.10 643.50,727.25 651.50,727.25 659.50,725.75 667.50,723.25 675.50,722.50 683.50,721.00 691.50,719.50 699.50,718.50 707.50,720.40 715.50,722.90 723.50,725.40 731.50,727.90 739.50,730.00 747.50,731.25 755.50,731.25 763.50,731.25 771.50,731.25 779.50,731.60 787.50,732.50 795.50,733.50 803.50,734.50 811.50,742.25 819.50,752.25 827.50,751.00 835.50,749.75 843.50,746.60 851.50,744.10 859.50,743.25 867.50,742.25 875.50,741.60 883.50,741.25 891.50,741.00 899.50,740.40 907.50,738.75 915.50,737.50 923.50,735.00 931.50,733.75 939.50,733.25 947.50,736.25 955.50,737.50 963.50,737.25 971.50,736.60 979.50,737.50 987.50,738.25 995.50,738.25 1003.50,736.25 1011.50,735.40 1019.50,736.25 1027.50,737.25 1035.50,738.50 1043.50,750.75 1051.50,750.40 1059.50,750.40 1067.50,748.25 1075.50,745.75 1083.50,744.10 1091.50,742.25 1099.50,739.50 1107.50,737.25 1115.50,735.40 1123.50,733.50 1131.50,730.40 1139.50,728.25 1147.50,727.25 1155.50,724.10 1163.50,722.50 1171.50,720.00 1179.50,716.25 1187.50,714.50 1195.50,713.25 1203.50,711.60 1211.50,708.25 1219.50,707.50 1227.50,707.50 1235.50,709.50 1243.50,710.40 1251.50,709.50 1259.50,707.90 1267.50,706.25 1275.50,705.40 1283.50,704.50 1291.50,702.50 1299.50,702.50 1307.50,704.10 1315.50,705.75 1323.50,707.90 1331.50,712.25 1339.50,717.25 1347.50,723.50 1355.50,729.50 1363.50,738.50 1371.50,745.00 1379.50,748.50 1387.50,752.90 1395.50,754.50 1403.50,754.50 1411.50,754.50 1419.50,754.50 1427.50,754.50 1435.50,752.25 1443.50,750.40 1451.50,748.25 1459.50,745.40 1467.50,744.50 1475.50,740.75 1483.50,740.40 1491.50,740.40 1499.50,740.40" stroke="#ff0000" stroke-dasharray="3 3"/><polyline points="3.50,703.25 11.50,704.50 19.50,706.00 27.50,706.40 35.50,708.25 43.50,706.25 51.50,703.75 59.50,701.40 67.50,699.10 75.50,701.60 83.50,704.10 91.50,707.90 99.50,709.75 107.50,710.00 115.50,707.50 123.50,705.75 131.50,696.50 139.50,683.50 147.50,686.50 155.50,680.25 163.50,682.50 171.50,684.10 179.50,685.40 187.50,693.50 195.50,705.00 203.50,705.40 211.50,704.50 219.50,746.60 227.50,745.00 235.50,741.25 243.50,742.50 251.50,739.50 259.50,739.50 267.50,735.75 275.50,732.50 283.50,726.00 291.50,718.50 299.50,718.50 307.50,720.40 315.50,722.50 323.50,723.50 331.50,712.25 339.50,700.75 347.50,697.00 355.50,693.25 363.50,696.25 371.50,695.40 379.50,696.25 387.50,696.25 395.50,699.40 403.50,701.60 411.50,707.50 419.50,712.25 427.50,719.10 435.50,727.25 443.50,728.50 451.50,731.40 459.50,731.40 467.50,731.40 475.50,727.25 483.50,724.10 491.50,724.10 499.50,725.40 507.50,729.10 515.50,732.50 523.50,730.00 531.50,728.25 539.50,726.25 547.50,726.25 555.50,727.25 563.50,726.25 571.50,723.25 579.50,726.00 587.50,728.25 595.50,729.10 603.50,730.40 611.50,733.50 619.50,733.50 627.50,731.00 635.50,729.10 643.50,727.50 651.50,725.40 659.50,721.60 667.50,717.90 675.50,716.25 683.50,716.25 691.50,712.25 699.50,713.25 707.50,719.75 715.50,725.40 723.50,730.00 731.50,732.90 739.50,739.50 747.50,737.25 755.50,735.40 763.50,734.50 771.50,733.25 779.50,734.50 787.50,735.75 795.50,737.50 803.50,738.25 811.50,751.00 819.50,772.90 827.50,763.50 835.50,754.75 843.50,746.25 851.50,743.50 859.50,740.75 867.50,739.10 875.50,737.50 883.50,738.25 891.50,740.75 899.50,737.50 907.50,734.50 915.50,732.50 923.50,729.50 931.50,728.50 939.50,729.50 947.50,737.25 955.50,740.40 963.50,738.25 971.50,736.60 979.50,739.50 987.50,739.50 995.50,740.40 1003.50,735.75 1011.50,733.25 1019.50,736.00 1027.50,737.50 1035.50,739.75 1043.50,770.40 1051.50,761.60 1059.50,757.90 1067.50,749.10 1075.50,742.50 1083.50,741.00 1091.50,737.90 1099.50,733.75 1107.50,730.00 1115.50,726.60 1123.50,723.75 1131.50,722.00 1139.50,720.40 1147.50,719.10 1155.50,716.25 1163.50,714.10 1171.50,709.50 1179.50,705.40 1187.50,705.40 1195.50,707.50 1203.50,703.75 1211.50,699.50 1219.50,700.40 1227.50,702.00 1235.50,707.50 1243.50,710.40 1251.50,710.40 1259.50,707.25 1267.50,704.75 1275.50,701.60 1283.50,700.40 1291.50,697.50 1299.50,699.10 1307.50,703.75 1315.50,707.00 1323.50,711.00 1331.50,721.60 1339.50,730.40 1347.50,739.10 1355.50,747.50 1363.50,761.60 1371.50,772.50 1379.50,769.50 1387.50,774.10 1395.50,768.50 1403.50,762.90 1411.50,762.25 1419.50,758.50 1427.50,755.75 1435.50,751.60 1443.50,747.90 1451.50,744.10 1459.50,740.40 1467.50,737.25 1475.50,733.25 1483.50,733.25 1491.50,735.40 1499.50,736.60" stroke="#ffff00"/></g><defs><clipPath id="fnclip"><rect x="3" y="675" width="1551" height="104"/></clipPath></defs><g fill="none" stroke="#ffffff" stroke-width="1" shape-rendering="crispEdges"><rect x="2.5" y="2.5" width="1552" height="584"/><rect x="2.5" y="588.5" width="1552" height="84"/><rect x="2.5" y="674.5" width="1552" height="105"/></g><g fill="#ffffff" shape-rendering="crispEdges"><rect x="1555" y="22" width="2" height="1"/><rect x="1555" y="55" width="2" height="1"/><rect x="1555" y="88" width="2" height="1"/><rect x="1555" y="121" width="2" height="1"/><rect x="1555" y="154" width="2" height="1"/><rect x="1555" y="187" width="2" height="1"/><rect x="1555" y="220" width="2" height="1"/><rect x="1555" y="253" width="2" height="1"/><rect x="1555" y="286" width="2" height="1"/><rect x="1555" y="319" width="2" height="1"/><rect x="1555" y="352" width="2" height="1"/><rect x="1555" y="385" width="2" height="1"/><rect x="1555" y="418" width="2" height="1"/><rect x="1555" y="451" width="2" height="1"/><rect x="1555" y="484" width="2" height="1"/><rect x="1555" y="517" width="2" height="1"/><rect x="1555" y="550" width="2" height="1"/><rect x="1555" y="583" width="2" height="1"/><rect x="1555" y="589" width="2" height="1"/><rect x="1555" y="672" width="2" height="1"/><rect x="1555" y="675" width="2" height="1"/><rect x="1555" y="720" width="2" height="1"/><rect x="1555" y="762" width="2" height="1"/><rect x="1555" y="779" width="2" height="1"/><rect x="3" y="780" width="1" height="3"/><rect x="67" y="780" width="1" height="3"/><rect x="131" y="780" width="1" height="3"/><rect x="195" y="780" width="1" height="3"/><rect x="259" y="780" width="1" height="3"/><rect x="323" y="780" width="1" height="3"/><rect x="387" y="780" width="1" height="3"/><rect x="451" y="780" width="1" height="3"/><rect x="515" y="780" width="1" height="3"/><rect x="579" y="780" width="1" height="3"/><rect x="643" y="780" width="1" height="3"/><rect x="707" y="780" width="1" height="3"/><rect x="771" y="780" width="1" height="3"/><rect x="835" y="780" width="1" height="3"/><rect x="899" y="780" width="1" height="3"/><rect x="963" y="780" width="1" height="3"/><rect x="1027" y="780" width="1" height="3"/><rect x="1091" y="780" width="1" height="3"/><rect x="1155" y="780" width="1" height="3"/><rect x="1219" y="780" width="1" height="3"/><rect x="1283" y="780" width="1" height="3"/><rect x="1347" y="780" width="1" height="3"/><rect x="1411" y="780" width="1" height="3"/><rect x="1475" y="780" width="1" height="3"/></g><polygon points="6,9 13,9 9.5,13" fill="#ffffff"/><rect x="1556" y="525" width="41" height="11" fill="#ffffff"/></svg><div class="t" style="left:18px;top:7px;transform:scaleX(0.96)">XAUUSD,M30</div><div class="t" style="left:7px;top:594px;transform:scaleX(0.955)">Power Trend XAUUSD M30 3 -6 -6</div><div class="t" style="left:7px;top:680px;">FNCD (34,5,13) -0.3899 -0.4707</div><div class="t" style="left:1560px;top:19px;">1704.50</div><div class="t" style="left:1560px;top:52px;">1700.10</div><div class="t" style="left:1560px;top:85px;">1695.70</div><div class="t" style="left:1560px;top:118px;">1691.20</div><div class="t" style="left:1560px;top:151px;">1686.80</div><div class="t" style="left:1560px;top:184px;">1682.40</div><div class="t" style="left:1560px;top:217px;">1678.00</div><div class="t" style="left:1560px;top:250px;">1673.50</div><div class="t" style="left:1560px;top:283px;">1669.10</div><div class="t" style="left:1560px;top:316px;">1664.70</div><div class="t" style="left:1560px;top:349px;">1660.30</div><div class="t" style="left:1560px;top:382px;">1655.90</div><div class="t" style="left:1560px;top:415px;">1651.40</div><div class="t" style="left:1560px;top:448px;">1647.00</div><div class="t" style="left:1560px;top:481px;">1642.60</div><div class="t" style="left:1560px;top:514px;">1638.20</div><div class="t" style="left:1560px;top:547px;">1633.70</div><div class="t" style="left:1560px;top:580px;">1629.30</div><div class="t" style="left:1560px;top:527px;color:#000">1636.44</div><div class="t" style="left:1558px;top:592px;">4</div><div class="t" style="left:1558px;top:662px;">2</div><div class="t" style="left:1558px;top:678px;">1</div><div class="t" style="left:1558px;top:678px;">1.0883</div><div class="t" style="left:1558px;top:717px;">0.00</div><div class="t" style="left:1557px;top:759px;">-1</div><div class="t" style="left:1558px;top:769px;">-1.4108</div><div class="t" style="left:2px;top:785px;">6 Mar 2020</div><div class="t" style="left:66px;top:785px;">6 Mar 05:30</div><div class="t" style="left:130px;top:785px;">6 Mar 09:30</div><div class="t" style="left:194px;top:785px;">6 Mar 13:30</div><div class="t" style="left:258px;top:785px;">6 Mar 17:30</div><div class="t" style="left:322px;top:785px;">6 Mar 21:30</div><div class="t" style="left:386px;top:785px;">9 Mar 01:30</div><div class="t" style="left:450px;top:785px;">9 Mar 05:30</div><div class="t" style="left:514px;top:785px;">9 Mar 09:30</div><div class="t" style="left:578px;top:785px;">9 Mar 13:30</div><div class="t" style="left:642px;top:785px;">9 Mar 17:30</div><div class="t" style="left:706px;top:785px;">9 Mar 22:31</div><div class="t" style="left:770px;top:785px;">10 Mar 02:30</div><div class="t" style="left:834px;top:785px;">10 Mar 06:30</div><div class="t" style="left:898px;top:785px;">10 Mar 10:30</div><div class="t" style="left:962px;top:785px;">10 Mar 14:30</div><div class="t" style="left:1026px;top:785px;">10 Mar 18:30</div><div class="t" style="left:1090px;top:785px;">10 Mar 23:31</div><div class="t" style="left:1154px;top:785px;">11 Mar 03:30</div><div class="t" style="left:1218px;top:785px;">11 Mar 07:30</div><div class="t" style="left:1282px;top:785px;">11 Mar 11:30</div><div class="t" style="left:1346px;top:785px;">11 Mar 15:30</div><div class="t" style="left:1410px;top:785px;">11 Mar 19:30</div><div class="t" style="left:1474px;top:785px;">12 Mar 00:30</div></body></html>
